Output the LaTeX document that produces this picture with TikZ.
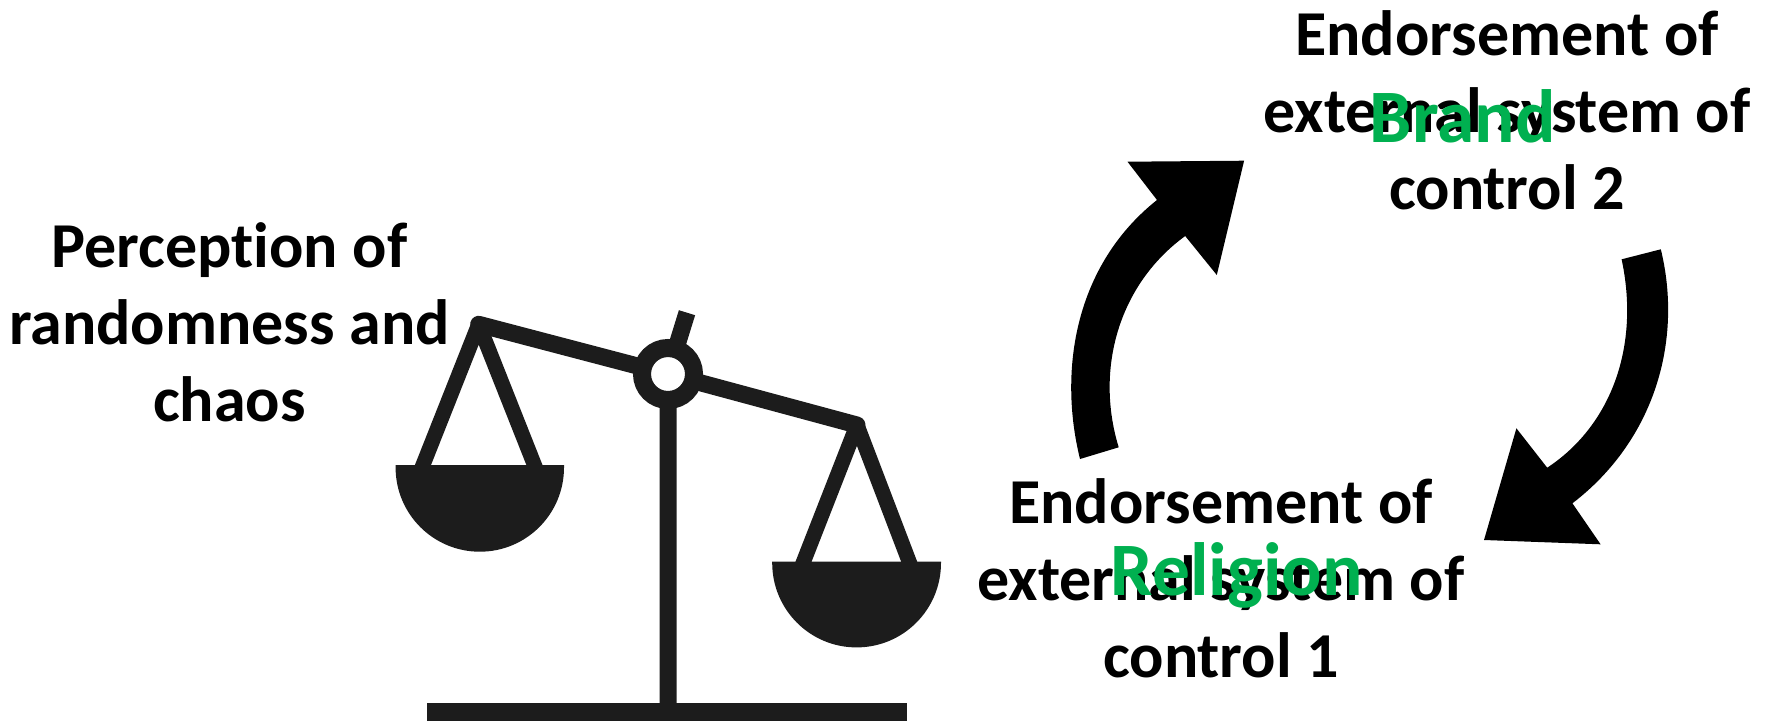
\documentclass[tikz,border=0pt]{standalone}
\usepackage{fontspec}
\setmainfont{Carlito}[Ligatures = NoCommon]
\definecolor{scalegray}{HTML}{1C1C1C}
\definecolor{tagreen}{HTML}{00B050}
\begin{document}
\begin{tikzpicture}[x = 1pt, y = -1pt]
    \useasboundingbox (0, 0) rectangle (1772, 721);

    \tikzstyle{txt} = [align = center, inner sep = 0pt, font = \fontsize{64}{77}\selectfont\bfseries]
    \tikzstyle{tag} = [inner sep = 0pt, text = tagreen, font = \fontsize{75.5}{80}\selectfont\bfseries]
    \tikzstyle{bar} = [draw = scalegray, line width = 17pt]
    \tikzstyle{rope} = [draw = scalegray, line width = 15pt, line join = round]
    \tikzstyle{pan} = [fill = scalegray]
    \tikzstyle{ring} = [circle, draw = scalegray, fill = white, line width = 18pt, inner sep = 0pt, minimum size = 52pt]

    \coordinate (ctop) at (687, 312.7);
    \coordinate (cbase) at (668.2, 712);
    \coordinate (cmid) at (668, 374);
    \coordinate (cleft) at (478.7, 324.3);
    \coordinate (cright) at (857, 425);
    \coordinate (lrope1) at (419, 475);
    \coordinate (lrope2) at (538.4, 475);
    \coordinate (rrope1) at (799.6, 571.7);
    \coordinate (rrope2) at (913, 571.7);

    \fill[scalegray] (427.4, 702.7) rectangle (906.8, 721);
    \draw[bar] (cmid) -- (cbase);
    \draw[bar] (cmid) -- (ctop);
    \draw[bar, line cap = round] (cleft) -- (cmid) -- (cright);

    \draw[rope] (lrope1) -- (cleft) -- (lrope2);
    \draw[rope] (rrope1) -- (cright) -- (rrope2);

    \fill[pan] (395.6, 465) -- (395.6, 467.5) arc (180:0:84.2) -- (564, 465) -- cycle;
    \fill[pan] (772.2, 561.7) -- (772.2, 563) arc (180:0:84.4) -- (941, 561.7) -- cycle;

    \node[ring] (pivot) at (cmid) {};

    \fill (1080, 459) .. controls (1058, 370) and (1075, 265) .. (1157, 200)
        -- (1127.5, 161.7) -- (1244.1, 160.7) -- (1216.8, 275) -- (1185.2, 236)
        .. controls (1118, 285) and (1095, 370) .. (1118.7, 447.3) -- cycle;
    \fill (1660.8, 249.3) .. controls (1683, 340) and (1655, 440) .. (1572.4, 503.3)
        -- (1600.6, 544.3) -- (1484, 540) -- (1516.4, 428.3) -- (1547.2, 467.7)
        .. controls (1612, 425) and (1640, 345) .. (1621.6, 259.3) -- cycle;

    \node[txt] (chaos) at (229.4, 322.5) {Perception of\\randomness and\\chaos};
    \node[txt] (ctrl2) at (1507, 110.5) {Endorsement of\\external system of\\control 2};
    \node[txt] (ctrl1) at (1221, 578) {Endorsement of\\external system of\\control 1};

    \node[tag, anchor = base] (brand) at (1462.6, 142.3) {Brand};
    \node[tag, anchor = base] (religion) at (1236.6, 595.3) {Religion};
\end{tikzpicture}
\end{document}
